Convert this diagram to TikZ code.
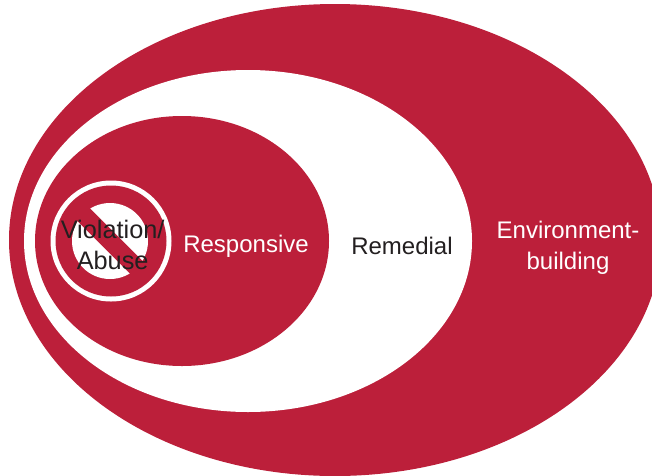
\documentclass[tikz,border=0pt]{standalone}
\usepackage{fontspec}
\setmainfont{Liberation Sans}
\definecolor{crim}{HTML}{BC1F3A}
\definecolor{ink}{HTML}{231F20}
\tikzset{lab/.style={font=\fontsize{18}{23.4}\selectfont,align=center,inner sep=0pt}}
\begin{document}
\begin{tikzpicture}[x=1pt,y=-1pt]
\useasboundingbox (0,0) rectangle (489,356.25);
\begin{scope}[scale=0.75]
\fill[white] (0,0) rectangle (652,475);
\fill[crim] (335,240) ellipse [x radius=326,y radius=236];
\fill[white] (248,241) ellipse [x radius=224,y radius=171];
\fill[crim] (182,241) ellipse [x radius=147,y radius=125];
\fill[white] (111,241) circle [radius=60.5];
\fill[crim] (111,241) circle [radius=55.5];
\fill[white] (110,241) circle [radius=38];
\draw[crim,line width=13.5pt] (80,211) -- (140,271);
\end{scope}
\node[lab,text=ink,font=\fontsize{19}{23.4}\selectfont] (v) at (84.5,183.5) {Violation/\\Abuse};
\node[lab,text=white] (r) at (184.5,185) {Responsive};
\node[lab,text=ink] (m) at (301.5,184.5) {Remedial};
\node[lab,text=white] (e) at (426,186) {Environment-\\building};
\end{tikzpicture}
\end{document}
